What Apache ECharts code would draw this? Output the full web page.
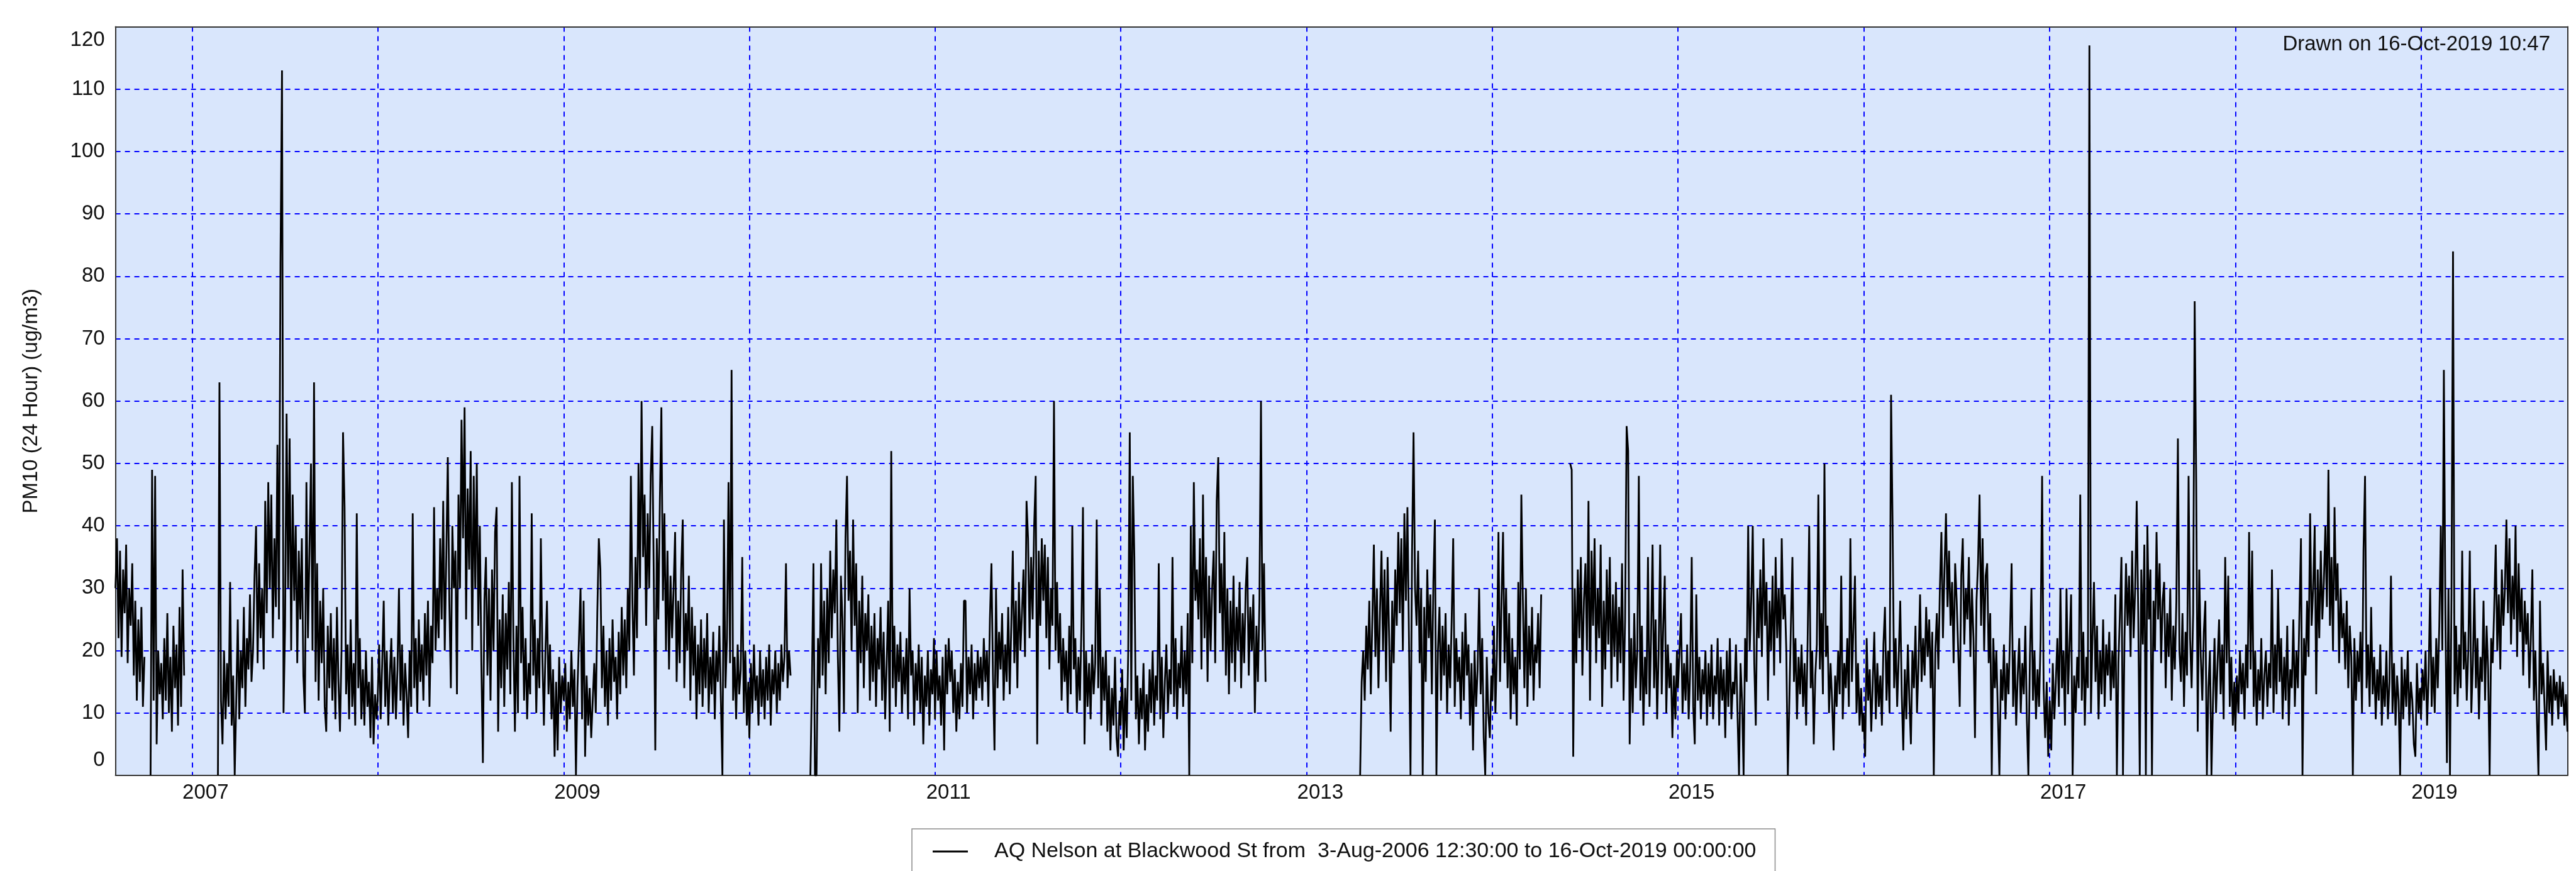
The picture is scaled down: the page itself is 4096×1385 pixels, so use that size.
<!DOCTYPE html>
<html><head><meta charset="utf-8">
<script src="https://cdn.jsdelivr.net/npm/echarts@6/dist/echarts.min.js"></script>
<style>html,body{margin:0;padding:0;background:#fff}#c{width:4096px;height:1385px}</style>
</head><body><div id="c"></div>
<script>
// ---- Data (PM10 24h, one value every 3 days from each start) ----
const y2006 = [30,38,22,36,19,33,26,37,18,30,24,34, 16,28,12,25,15,27,11,19, null,null, null,0,49,12,48,5,
  20,13,18,9,22,12,26,10,19,7,24,14,21,8,27,11,33,16, null,null,null,null];
const y2007 = [null,null,null,null,null,null,null,null,null,null,null,null,null,null,null,null,null, 0,63,
  12,5,20,9,18,11,31,8,16, 0, 12,25,9,20,14,27,11,22,17,29,15,
  20,32,40,18,34,22,30,17,44,26,47, 30,45,22,38,27,53,25,82,113,10,
  24,58,30,54,20,45,28,40,18,36, 25,38,16,10,47,22,36,50,20,63,
  15,34,12,28,18,30,11,7,24,14, 26,12,22,9,27,15,7,20,55,43,13,
  21,9,25,11,18,8,42,14,22,9, 17,8,20,11,15,6,19,5,13,9];
const y2008 = [12,21,9,18,28,11,20,8,16,22,10, 19,9,17,30,12,21,8,18,13, 6,20,11,42,14,22,10,25,15,21,
  12,26,16,28,11,24,18,43,20,30, 22,38,25,44,20,35,51,28,14,40,30, 36,13,45,30,57,38,59,25,46,33,
  52,20,48,30,50,24,40,18,2,28, 35,16,30,12,33,20,39,43,7,25, 14,29,11,26,17,31,13,47,22,7,
  24,10,48,18,27,12,22,9,18,13,42, 16,25,10,22,14,38,19,8,20,28, 13,21,9,17,3,15,4,19,10,16];
const y2009 = [12,18,7,15,9,20,11,17,0,14,22, 30,9,28,3,16,8,14,6,12, 18,10,26,38,33,14,24,11,20,8,
  22,12,25,15,19,9,23,13,27,16, 25,14,30,20,48,28,16,35,22,50,30, 60,35,45,24,42,30,48,56,32,4,
  38,25,44,59,28,42,20,36,17,32, 22,30,39,15,28,18,33,41,14,26, 20,32,12,27,16,24,9,21,13,25,
  11,22,14,26,10,19,13,23,9,20,15, 24,12,0,41,14,22,47,18,65,12, 19,9,21,13,17,35,10,20,8,15];
const y2010 = [6,18,10,21,12,16,8,20,11,17,9, 19,12,21,8,17,13,20,10,18, 12,21,15,19,34,14,20,16,null,null,
  null,null,null,null,null,null,null,null,null,null, 0,15,34,0,0,22,14,34,16,28,13, 30,18,36,22,33,26,41,19,7,32,
  25,10,38,48,28,36,20,41,24,34, 10,28,18,32,14,26,20,29,12,24, 15,26,11,22,17,27,12,23,9,18,
  28,7,52,14,24,11,21,15,23,10,19, 13,22,9,30,16,20,8,18,12,21, 10,19,5,16,11,20,8,17,13,22];
const y2011 = [9,20,12,16,8,19,4,21,13,22,15, 20,10,17,7,15,9,18,11,28, 28,10,19,13,21,9,18,12,20,14,
  19,12,22,15,20,11,25,34,16,4, 30,14,23,17,26,12,21,15,27,13,24, 36,18,28,14,31,20,26,33,19,44,
  38,22,35,25,40,48,5,36,24,38, 28,37,22,35,17,30,24,60,20,31, 18,26,12,22,15,20,10,24,13,40,
  17,22,10,19,12,24,43,5,20,11,18, 9,21,13,18,41,14,30,8,19,12, 20,7,16,4,14,8,19,6,3,12];
const y2012 = [8,17,4,14,6,20,55,12,48,35,9, 16,5,14,9,18,4,13,7,17, 10,20,8,16,12,34,9,19,6,15,
  21,10,17,13,35,11,22,9,18,14, 24,11,20,13,26,0,40,18,47,28,33, 25,38,17,45,22,35,15,32,20,30,
  36,18,44,51,26,34,20,39,16,30, 13,28,18,32,15,27,20,31,14,26, 18,30,35,16,27,20,29,10,24,15,
  28,60,20,34,15,null,null,null,null,null,null, null,null,null,null,null,null,null,null,null,null,
  null,null,null,null,null,null,null,null,null,null];
const y2013 = [null,null,null,null,null,null,null,null,null,null,null,null,null,null,null,null,null,null,
  null,null,null,null,null,null,null,null,null,null,null,null,null,null,null,null,null,
  0,15,20,12,24, 17,28,13,25,37,19,30,14,26,36,20, 33,15,35,22,7,28,18,33,24,39,
  26,38,20,42,28,43,22,0,35,55, 30,24,36,18,30,0,27,15,33,22, 29,13,31,41,0,20,27,12,24,16,
  26,10,21,14,25,38,11,22,15,19,9, 23,12,26,16,21,8,18,4,20,11, 17,30,13,22,6,0,19,10,6,16];
const y2014 = [12,24,10,20,39,15,28,39,18,30,14, 26,9,22,13,19,8,31,17,45, 28,14,30,11,24,16,27,12,21,18,
  26,14,29,null,null,null,null,null,null,null, null,null,null,null,null,null,null,null,null,null,null,
  50,49,3,30,18,33,22,35,16,28, 34,20,44,12,36,24,38,18,30,22, 37,11,28,17,33,21,35,14,29,19,
  31,15,27,18,34,12,25,56,52,5, 22,10,26,14,20,48,12,24,8,19,13, 35,11,22,37,14,25,9,20,37,13,
  24,32,10,21,14,18,6,16,9,20];
const y2015 = [14,20,26,10,18,12,21,9,17,35,11, 5,29,12,19,9,17,13,20,8, 18,11,21,9,16,13,22,8,19,12,
  17,6,20,11,22,9,15,13,21,10, 0,18,12,0,22,15,40,20,28,40,18, 8,30,22,33,19,38,24,31,12,28,
  20,32,16,35,22,30,18,38,25,29, 20,0,12,24,35,15,22,9,19,13, 21,11,18,8,22,40,14,20,5,16,
  21,45,17,26,13,50,19,24,10,18,12, 4,16,11,20,13,32,9,18,14,22, 11,38,15,24,32,10,18,8,14,7];
const y2016 = [10,3,22,12,17,7,15,23,9,18,11, 16,8,21,27,12,20,10,61,40, 14,22,11,19,28,13,4,17,9,21,
  12,5,20,14,24,10,18,29,15,22, 16,27,19,25,14,23,0,20,26,17,30, 39,22,33,42,27,36,24,31,18,34,
  28,20,11,32,38,21,30,25,35,19, 30,22,6,28,34,45,24,38,20,32, 34,18,26,0,22,14,20,10,0,17,
  12,21,9,18,13,23,34,11,20,8,16, 22,10,18,13,24,9,0,19,30,12, 20,9,17,11,22,48,14,6,15,3];
const y2017 = [12,4,18,9,15,22,11,30,14,20,8, 30,13,21,29,0,16,10,19,14, 45,12,23,8,19,14,117,10,22,31,
  15,24,9,20,13,25,11,21,16,23, 12,20,14,29,0,18,26,35,0,22,34, 24,32,19,36,22,30,44,26,0,33,
  21,37,0,40,25,33,0,28,20,39, 25,34,18,28,31,14,26,19,30,12, 24,17,28,54,20,15,26,11,23,16,
  48,22,14,26,76,47,7,33,19,12,23, 28,0,14,20,0,12,22,10,18,25, 13,21,9,35,18,32,11,19,8,15];
const y2018 = [7,16,10,20,13,18,9,21,14,39,17, 36,11,20,8,17,12,22,9,16, 20,11,18,14,33,10,21,13,30,15,
  22,9,19,12,24,8,17,14,25,11, 20,14,26,38,0,22,16,28,19,42,24, 30,40,13,33,22,36,25,31,40,27,
  49,24,35,20,43,28,34,18,30,22, 26,17,28,14,24,19,0,22,12,20, 15,23,10,36,48,14,21,11,27,13,
  19,9,17,12,21,8,16,11,20,9,15, 32,10,18,8,16,12,0,19,9,17, 11,20,8,15,12,5,3,18,10,14];
const y2019 = [9,17,12,20,8,16,30,11,19,10,22, 14,24,40,20,65,26,2,30,0, 29,84,13,24,11,21,14,36,17,23,
  12,20,36,10,18,30,14,22,9,19, 15,28,12,24,17,0,22,18,27,37,20, 29,17,33,24,30,41,26,38,21,32,
  25,40,19,34,23,30,16,28,21,26, 14,22,33,12,20,9,0,28,13,18, 11,4,20,10,16,8,17,12,15,9,
  16,11,15,8,13,7];

// ---- Axis / text content ----
const xLabelYears = [2007, 2009, 2011, 2013, 2015, 2017, 2019];
const yTickValues = [0,10,20,30,40,50,60,70,80,90,100,110,120];
const seriesName = 'AQ Nelson at Blackwood St from  3-Aug-2006 12:30:00 to 16-Oct-2019 00:00:00';
const drawnText = 'Drawn on 16-Oct-2019 10:47';
const yName = 'PM10 (24 Hour) (ug/m3)';

const DAY = 86400000;
const xMin = Date.UTC(2006, 7, 3, 12, 30);
const xMax = Date.UTC(2019, 9, 16);
const segments = [
  [xMin, y2006], [Date.UTC(2007,0,1), y2007], [Date.UTC(2008,0,1), y2008], [Date.UTC(2009,0,1), y2009],
  [Date.UTC(2010,0,1), y2010], [Date.UTC(2011,0,1), y2011], [Date.UTC(2012,0,1), y2012], [Date.UTC(2013,0,1), y2013],
  [Date.UTC(2014,0,1), y2014], [Date.UTC(2015,0,1), y2015], [Date.UTC(2016,0,1), y2016], [Date.UTC(2017,0,1), y2017],
  [Date.UTC(2018,0,1), y2018], [Date.UTC(2019,0,1), y2019]
];
const data = [];
segments.forEach(([start, vals], k) => {
  const end = k + 1 < segments.length ? segments[k + 1][0] : xMax + 1;
  vals.forEach((v, i) => { const t = start + i * 3 * DAY; if (t < end) data.push([t, v]); });
});

const FONT = '"Liberation Sans", Arial, sans-serif';
const FS = 33;
const TXT = '#111';
const chart = echarts.init(document.getElementById('c'), null, { renderer: 'canvas' });
chart.setOption({
  animation: false,
  useUTC: true,
  textStyle: { fontFamily: FONT },
  title: {
    text: drawnText, right: 41, top: 54, padding: 0,
    textStyle: { fontFamily: FONT, fontSize: FS, fontWeight: 'normal', color: TXT }
  },
  legend: {
    data: [seriesName], left: 1450, top: 1318, padding: [19, 30, 40, 33],
    borderColor: '#8a8a8a', borderWidth: 1.5, backgroundColor: '#fff',
    icon: 'rect', itemWidth: 56, itemHeight: 3, selectedMode: false,
    itemStyle: { color: '#000' },
    textStyle: { fontFamily: FONT, fontSize: 34, color: TXT, padding: [0, 0, 0, 37] }
  },
  grid: {
    left: 183.6, right: 13.6, top: 42.6, bottom: 152,
    show: true, backgroundColor: '#D9E6FC', borderWidth: 0
  },
  xAxis: [{
    type: 'time', min: xMin, max: xMax, minInterval: 365 * DAY, maxInterval: 365 * DAY,
    axisLine: { show: true, onZero: false, lineStyle: { color: '#333', width: 2 } },
    axisTick: { show: false },
    splitLine: { show: true, showMinLine: false, showMaxLine: false,
      lineStyle: { color: '#0000FF', width: 2, type: [8, 7] } },
    axisLabel: {
      show: true, margin: 11, fontSize: FS, color: TXT, fontFamily: FONT,
      padding: [0, 0, 0, 43], showMinLabel: false, showMaxLabel: false, hideOverlap: false,
      formatter: (val) => {
        const d = new Date(val);
        const y = d.getUTCFullYear();
        return (d.getUTCMonth() === 0 && d.getUTCDate() === 1 && xLabelYears.includes(y)) ? String(y) : '';
      }
    }
  }, {
    type: 'time', position: 'top', min: xMin, max: xMax,
    axisLine: { show: true, onZero: false, lineStyle: { color: '#333', width: 2 } },
    axisTick: { show: false }, axisLabel: { show: false }, splitLine: { show: false }
  }],
  yAxis: [{
    type: 'value', min: 0, max: 120, interval: 10,
    name: yName, nameLocation: 'middle', nameGap: 117,
    nameTextStyle: { fontFamily: FONT, fontSize: FS, color: TXT },
    axisLine: { show: true, onZero: false, lineStyle: { color: '#333', width: 2 } },
    axisTick: { show: false },
    splitLine: { show: true, showMinLine: false, showMaxLine: false,
      lineStyle: { color: '#0000FF', width: 2, type: [8, 7] } },
    axisLabel: {
      margin: 17, fontSize: FS, color: TXT, fontFamily: FONT,
      formatter: (v) => {
        if (!yTickValues.includes(v)) return '';
        if (v === 0) return '{lo|0}';
        if (v === 120) return '{hi|120}';
        return String(v);
      },
      rich: {
        lo: { fontSize: FS, fontFamily: FONT, color: TXT, padding: [0, 0, 48, 0] },
        hi: { fontSize: FS, fontFamily: FONT, color: TXT, padding: [42, 0, 0, 0] }
      }
    }
  }, {
    type: 'value', min: 0, max: 120, position: 'right',
    axisLine: { show: true, onZero: false, lineStyle: { color: '#333', width: 2 } },
    axisTick: { show: false }, axisLabel: { show: false }, splitLine: { show: false }
  }],
  series: [{
    name: seriesName, type: 'line', data: data, xAxisIndex: 0, yAxisIndex: 0,
    showSymbol: false, symbol: 'none', connectNulls: false, sampling: null,
    color: '#000', lineStyle: { color: '#000', width: 2.8 }, z: 3
  }]
});
</script>
</body></html>
